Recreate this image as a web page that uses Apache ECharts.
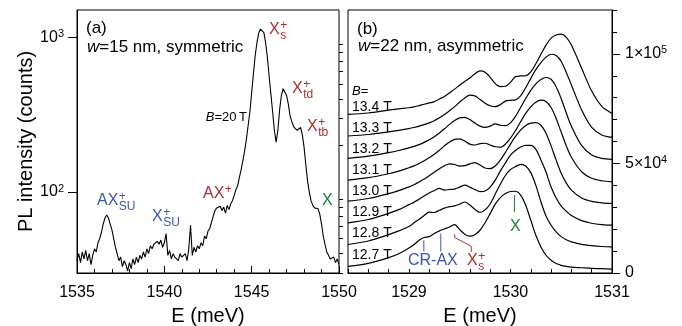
<!DOCTYPE html>
<html>
<head>
<meta charset="utf-8">
<script src="https://cdn.jsdelivr.net/npm/echarts@6/dist/echarts.min.js"></script>
<style>
html, body { margin: 0; padding: 0; background: #fff; }
#root { width: 682px; height: 326px; }
</style>
</head>
<body>
<div id="root"></div>
<script>
var FONT = '"Liberation Sans", Arial, Helvetica, sans-serif';
var RED = '#b22a30', BLUE = '#3a56b4', GREEN = '#16803a';

// (a) w=15 nm, B=20 T : counts every 0.1 meV from 1535.0 to 1550.0
var startA = 1535, stepA = 0.1;
var countsA = [
    36, 40, 35, 41, 37, 42, 36, 40, 34, 39,
    43, 41, 47, 50, 55, 62, 68, 71, 68, 62,
    57, 50, 44, 40, 36, 38, 33, 36, 34, 31,
    35, 32, 37, 34, 38, 35, 39, 37, 41, 38,
    43, 40, 45, 43, 46, 47, 48, 46, 49, 44,
    47, 54, 39, 42, 37, 40, 38, 39, 36, 40,
    38, 37, 40, 36, 43, 61, 39, 44, 41, 45,
    43, 47, 45, 52, 50, 56, 58, 64, 70, 76,
    79, 78, 81, 76, 80, 73, 82, 77, 84, 88,
    95, 104, 110, 125, 140, 160, 185, 220, 270, 330,
    440, 580, 760, 920, 1060, 1130, 1140, 1070, 920, 740,
    560, 430, 330, 250, 210, 250, 340, 420, 465, 460,
    420, 370, 310, 285, 265, 258, 250, 255, 262, 235,
    195, 150, 118, 100, 88, 82, 79, 77, 78, 72,
    62, 52, 46, 41, 39, 37, 36, 38, 35, 37,
    34
];

// (b) w=22 nm : spectra in 10^3 counts, offset by 10^4 per field step
var energyB = [1528.4, 1528.6, 1528.8, 1528.9, 1529.0, 1529.05, 1529.1, 1529.15, 1529.2, 1529.25,
    1529.3, 1529.35, 1529.4, 1529.45, 1529.5, 1529.55, 1529.6, 1529.65, 1529.7, 1529.75,
    1529.8, 1529.85, 1529.9, 1529.95, 1530.0, 1530.05, 1530.1, 1530.15, 1530.2, 1530.25,
    1530.3, 1530.35, 1530.4, 1530.45, 1530.5, 1530.55, 1530.6, 1530.7, 1530.8, 1530.9, 1531.0];
var fieldsB = ['12.7 T', '12.8 T', '12.9 T', '13.0 T', '13.1 T', '13.2 T', '13.3 T', '13.4 T'];
var offsetsB = [0, 10, 20, 30, 40, 50, 60, 70];
var b127 = [3.0, 4.4, 7.0, 8.8, 11.4, 13.0, 14.9, 16.2, 16.6, 18.0, 19.2, 20.1, 21.0, 22.1, 19.8, 17.7, 16.8, 17.5, 19.5, 22.9, 27.1, 31.4, 34.4, 36.3, 37.2, 37.3, 35.5, 30.9, 24.1, 17.2, 11.9, 8.1, 5.8, 4.3, 3.5, 3.0, 2.7, 2.4, 2.1, 2.0, 1.8];
var b128 = [3.0, 4.6, 7.5, 9.2, 11.2, 12.9, 14.5, 16.2, 17.8, 17.6, 18.6, 19.6, 20.3, 20.6, 21.4, 22.4, 21.0, 19.0, 17.6, 18.8, 21.5, 26.0, 30.5, 34.5, 37.2, 38.6, 39.6, 38.8, 35.8, 30.0, 22.5, 16.0, 11.8, 8.8, 6.6, 5.2, 4.2, 3.1, 2.5, 2.1, 1.9];
var b129 = [2.9, 4.4, 7.2, 8.9, 11.2, 12.3, 13.7, 15.1, 16.5, 17.6, 18.6, 17.8, 18.1, 18.3, 19.2, 20.1, 19.2, 18.1, 17.1, 17.4, 19.2, 22.4, 26.5, 30.2, 33.8, 35.9, 37.5, 38.2, 38.2, 36.4, 31.6, 26.1, 19.2, 14.2, 10.5, 8.2, 6.2, 3.9, 2.7, 2.1, 1.8];
var b130 = [2.8, 4.0, 6.2, 7.6, 9.3, 10.3, 11.5, 12.9, 14.4, 16.0, 17.6, 18.9, 19.8, 19.5, 18.8, 19.0, 19.8, 20.4, 19.3, 17.9, 17.6, 18.8, 21.5, 25.0, 28.8, 32.3, 35.2, 37.3, 38.4, 38.6, 37.4, 33.8, 28.0, 21.5, 15.5, 11.0, 7.8, 4.2, 2.7, 2.0, 1.7];
var b131 = [2.4, 3.5, 5.3, 6.5, 8.0, 8.9, 10.0, 11.2, 12.6, 14.2, 16.0, 18.0, 19.8, 21.0, 21.2, 20.2, 18.8, 18.4, 19.0, 19.2, 18.4, 17.6, 17.4, 18.8, 21.5, 25.0, 29.0, 32.8, 35.8, 37.9, 38.9, 38.3, 35.5, 30.5, 24.2, 18.0, 12.8, 6.2, 3.2, 2.1, 1.6];
var b132 = [2.3, 3.3, 4.9, 5.9, 7.1, 7.8, 8.6, 9.6, 10.8, 12.2, 13.9, 15.8, 17.8, 19.6, 20.8, 21.0, 20.0, 18.4, 17.0, 16.4, 17.0, 18.0, 17.4, 17.2, 18.5, 21.5, 25.5, 29.6, 33.3, 36.3, 38.3, 39.2, 38.4, 35.0, 29.5, 23.0, 17.0, 8.2, 3.8, 2.3, 1.8];
var b133 = [2.5, 3.2, 4.4, 5.1, 5.9, 6.4, 7.0, 7.7, 8.5, 9.5, 10.8, 12.3, 14.0, 15.9, 18.0, 19.9, 21.2, 20.8, 19.2, 17.5, 16.3, 15.9, 16.8, 18.4, 18.8, 19.0, 20.8, 24.5, 28.8, 32.8, 36.0, 38.5, 39.8, 39.2, 36.5, 31.5, 25.8, 14.5, 6.5, 3.0, 1.9];
var b134 = [2.4, 3.0, 4.3, 4.9, 5.4, 5.8, 6.4, 7.0, 7.6, 8.2, 9.4, 10.5, 12.2, 13.9, 15.7, 17.4, 19.0, 20.9, 22.2, 21.6, 19.3, 16.4, 15.0, 15.2, 17.0, 19.6, 19.9, 20.0, 21.8, 25.5, 29.8, 34.0, 37.2, 38.6, 39.0, 37.5, 34.0, 23.5, 13.0, 6.0, 2.8];
var spectraB = [b127, b128, b129, b130, b131, b132, b133, b134];

// marker lines of (b), [E, counts in 10^3]
var crAxTicks = [[[1529.147, 14.9], [1529.147, 9.8]], [[1529.314, 18.0], [1529.314, 9.8]]];
var xsBracket = [[1529.451, 17.7], [1529.451, 16.2], [1529.614, 12.2], [1529.614, 9.6]];
var xTick = [[1530.039, 35.5], [1530.039, 27.9]];

var minorA = [30, 40, 50, 60, 70, 80, 90, 200, 300, 400, 500, 600, 700, 800, 900];
var majorA = [100, 1000];
var majorB = [0, 50000, 100000];

var rdiv = document.getElementById('root');
var chart = echarts.init(rdiv, null, { renderer: 'canvas' });

var dataA = countsA.map(function (c, i) {
    return [+(startA + i * stepA).toFixed(1), c];
});

var seriesList = [{
    type: 'line', xAxisIndex: 0, yAxisIndex: 0, data: dataA,
    showSymbol: false, silent: true,
    lineStyle: { color: '#000', width: 1.1 }
}];
spectraB.forEach(function (s, k) {
    seriesList.push({
        type: 'line', xAxisIndex: 1, yAxisIndex: 2, smooth: 0.3,
        showSymbol: false, silent: true,
        lineStyle: { color: '#000', width: 1.2 },
        data: s.map(function (v, i) { return [energyB[i], (v + offsetsB[k]) * 1000]; })
    });
});
var marker = function (pts, color) {
    return {
        type: 'line', xAxisIndex: 1, yAxisIndex: 2, showSymbol: false, silent: true,
        lineStyle: { color: color, width: 1 },
        data: pts.map(function (p) { return [p[0], p[1] * 1000]; })
    };
};
crAxTicks.forEach(function (t) { seriesList.push(marker(t, BLUE)); });
seriesList.push(marker(xsBracket, RED));
seriesList.push(marker(xTick, GREEN));

// text with a superscript and a subscript stacked after it
var ctx = document.createElement('canvas').getContext('2d');
var sym = function (x, y, main, sup, sub, color, size) {
    size = size || 16;
    ctx.font = size + 'px ' + FONT;
    var w = ctx.measureText(main).width;
    var els = [{
        type: 'text', x: x, y: y,
        style: { text: main, font: size + 'px ' + FONT, fill: color, verticalAlign: 'middle' }
    }];
    if (sup) els.push({
        type: 'text', x: x + w + 0.5, y: y - 4.5,
        style: { text: sup, font: '12px ' + FONT, fill: color, verticalAlign: 'middle' }
    });
    if (sub) els.push({
        type: 'text', x: x + w + 0.5, y: y + 6,
        style: { text: sub, font: '12px ' + FONT, fill: color, verticalAlign: 'middle' }
    });
    return els;
};
var plain = function (x, y, text, size, align) {
    return {
        type: 'text', x: x, y: y,
        style: {
            text: text, font: size + 'px ' + FONT, fill: '#000',
            verticalAlign: 'middle', align: align || 'left',
            rich: { i: { fontStyle: 'italic', fontSize: size, fontFamily: FONT } }
        }
    };
};

var graphics = [
    plain(86, 28, '(a)', 17),
    plain(87, 47, '{i|w}=15 nm, symmetric', 17),
    plain(247, 117, '{i|B}=20\u2009T', 13, 'right'),
    plain(357, 29, '(b)', 17),
    plain(358, 46, '{i|w}=22 nm, asymmetric', 17),
    plain(352, 91, '{i|B}=', 13)
];
var fieldY = [255, 233.5, 212, 191.5, 170, 149, 128, 107];
fieldsB.forEach(function (f, k) { graphics.push(plain(352, fieldY[k], f, 14)); });
graphics = graphics
    .concat(sym(269, 30, 'X', '+', 's', RED))
    .concat(sym(292, 89, 'X', '+', 'td', RED))
    .concat(sym(307, 127, 'X', '+', 'tb', RED))
    .concat(sym(203, 194, 'AX', '+', null, RED))
    .concat(sym(97, 201, 'AX', '+', 'SU', BLUE))
    .concat(sym(152, 217, 'X', '+', 'SU', BLUE))
    .concat(sym(322, 201, 'X', null, null, GREEN))
    .concat(sym(408, 261, 'CR-AX', null, null, BLUE))
    .concat(sym(467, 261, 'X', '+', 's', RED))
    .concat(sym(510, 227, 'X', null, null, GREEN));

var supLabel = {
    fontFamily: FONT, color: '#000',
    rich: {
        m: { fontSize: 16, lineHeight: 18, fontFamily: FONT, color: '#000' },
        e: { fontSize: 11, lineHeight: 11, verticalAlign: 'top', fontFamily: FONT, color: '#000' }
    }
};
var axisName = { fontSize: 20, color: '#000', fontFamily: FONT };

var option = {
    animation: false,
    textStyle: { fontFamily: FONT },
    grid: [
        { left: 77, top: 10, width: 262, height: 263, show: true, borderColor: '#000', borderWidth: 1,
          containLabel: false, outerBoundsMode: 'none' },
        { left: 348, top: 10, width: 264, height: 263, show: true, borderColor: '#000', borderWidth: 1,
          containLabel: false, outerBoundsMode: 'none' }
    ],
    xAxis: [{
        gridIndex: 0, type: 'value', min: 1535, max: 1550, interval: 5,
        axisLine: { lineStyle: { color: '#000' } },
        axisTick: { inside: true, length: 7, lineStyle: { color: '#000' } },
        minorTick: { show: true, splitNumber: 5, length: 4, lineStyle: { color: '#000' } },
        splitLine: { show: false },
        axisLabel: { fontSize: 16, color: '#000', margin: 12, fontFamily: FONT,
            formatter: function (v) { return String(v); } },
        name: 'E (meV)', nameLocation: 'middle', nameGap: 33, nameTextStyle: axisName
    }, {
        gridIndex: 1, type: 'value', min: 1528.4, max: 1531, interval: 0.2,
        axisLine: { lineStyle: { color: '#000' } },
        axisTick: { inside: true, length: 4, lineStyle: { color: '#000' } },
        splitLine: { show: false },
        axisLabel: {
            fontSize: 16, color: '#000', margin: 12, fontFamily: FONT, showMinLabel: true, showMaxLabel: true,
            formatter: function (v) { return Math.abs(v - Math.round(v)) < 1e-6 ? String(Math.round(v)) : ''; }
        },
        name: 'E (meV)', nameLocation: 'middle', nameGap: 33, nameTextStyle: axisName
    }],
    yAxis: [{
        gridIndex: 0, type: 'log', logBase: 10, min: 30, max: 1500,
        axisLine: { show: true, lineStyle: { color: '#000' } },
        axisTick: { inside: false, length: 9, customValues: majorA, lineStyle: { color: '#000' } },
        splitLine: { show: false },
        axisLabel: Object.assign({}, supLabel, {
            customValues: majorA, margin: 13,
            formatter: function (v) { return '{m|10}{e|' + Math.round(Math.log10(v)) + '}'; }
        }),
        name: 'PL intensity (counts)', nameLocation: 'middle', nameGap: 39, nameTextStyle: axisName
    }, {
        gridIndex: 0, type: 'log', logBase: 10, min: 30, max: 1500,
        axisLine: { show: false },
        axisTick: { inside: false, length: 4, customValues: minorA, lineStyle: { color: '#000' } },
        splitLine: { show: false }, axisLabel: { show: false }
    }, {
        gridIndex: 1, type: 'value', position: 'right', min: 0, max: 120000, interval: 10000,
        axisLine: { show: true, lineStyle: { color: '#000' } },
        axisTick: { inside: false, length: 5, lineStyle: { color: '#000' } },
        splitLine: { show: false },
        axisLabel: Object.assign({}, supLabel, {
            customValues: majorB, margin: 13,
            formatter: function (v) {
                if (v === 0) return '{m|0}';
                var ex = Math.floor(Math.log10(v) + 1e-9);
                return '{m|' + Math.round(v / Math.pow(10, ex)) + '\u00d710}{e|' + ex + '}';
            }
        })
    }, {
        gridIndex: 1, type: 'value', position: 'right', min: 0, max: 120000,
        axisLine: { show: false },
        axisTick: { inside: false, length: 8, customValues: majorB, lineStyle: { color: '#000' } },
        splitLine: { show: false }, axisLabel: { show: false }
    }],
    series: seriesList,
    graphic: graphics
};
chart.setOption(option);
</script>
</body>
</html>
